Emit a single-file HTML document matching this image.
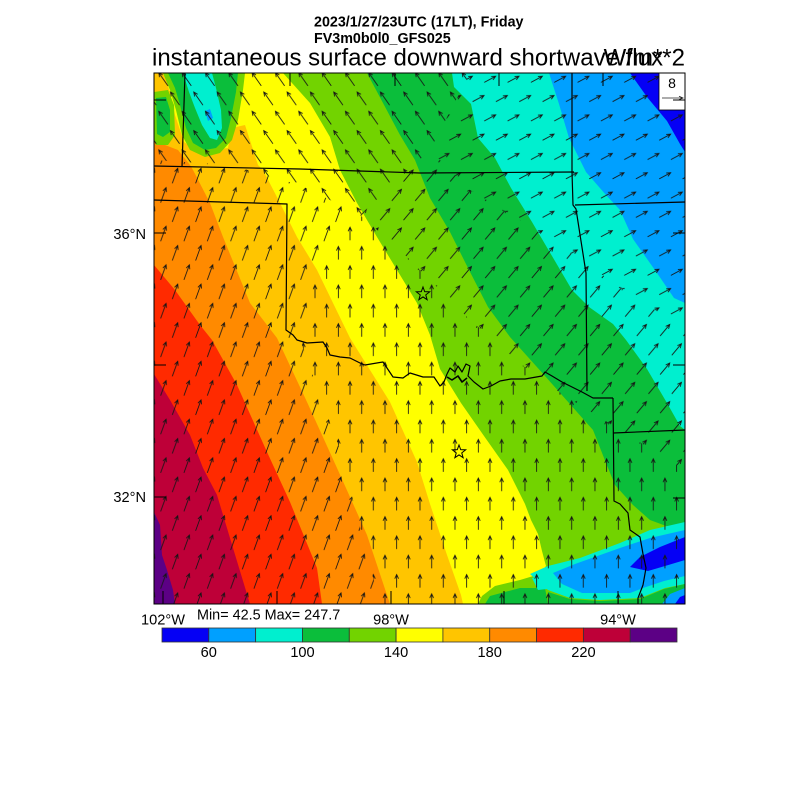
<!DOCTYPE html>
<html>
<head>
<meta charset="utf-8">
<style>
html,body{margin:0;padding:0;background:#fff;}
svg{display:block;}
text{font-family:"Liberation Sans",Arial,sans-serif;fill:#000;}
</style>
</head>
<body>
<svg width="800" height="800" viewBox="0 0 800 800" xmlns="http://www.w3.org/2000/svg">
<defs>
  <clipPath id="mapclip"><rect x="154" y="73" width="531" height="531"/></clipPath>
  <path id="aN" d="M0,6.5V-6.5M-1.9,-2.4L0,-6.5L1.9,-2.4"/>
  <path id="aNNE" d="M0,8V-8M-1.9,-3.9L0,-8L1.9,-3.9" transform="rotate(20)"/>
  <path id="aNE" d="M0,7.5V-7.5M-1.9,-3.4L0,-7.5L1.9,-3.4" transform="rotate(40)"/>
  <path id="aENE" d="M0,6.5V-6.5M-1.9,-2.4L0,-6.5L1.9,-2.4" transform="rotate(62)"/>
  <path id="aNW" d="M0,8V-8M-1.9,-3.9L0,-8L1.9,-3.9" transform="rotate(-35)"/>
  <pattern id="pN" patternUnits="userSpaceOnUse" x="145.87" y="50.35" width="23.33" height="38.6">
    <g stroke="#151515" stroke-width="0.85" fill="none">
      <use href="#aN" x="5.83" y="9.65"/><use href="#aN" x="29.16" y="9.65"/>
      <use href="#aN" x="17.5" y="28.95"/><use href="#aN" x="-5.83" y="28.95"/>
    </g>
  </pattern>
  <pattern id="pNNE" patternUnits="userSpaceOnUse" x="145.87" y="50.35" width="23.33" height="38.6">
    <g stroke="#151515" stroke-width="0.85" fill="none">
      <use href="#aNNE" x="5.83" y="9.65"/><use href="#aNNE" x="29.16" y="9.65"/>
      <use href="#aNNE" x="17.5" y="28.95"/><use href="#aNNE" x="-5.83" y="28.95"/>
    </g>
  </pattern>
  <pattern id="pNE" patternUnits="userSpaceOnUse" x="145.87" y="50.35" width="23.33" height="38.6">
    <g stroke="#151515" stroke-width="0.85" fill="none">
      <use href="#aNE" x="5.83" y="9.65"/><use href="#aNE" x="29.16" y="9.65"/>
      <use href="#aNE" x="17.5" y="28.95"/><use href="#aNE" x="-5.83" y="28.95"/>
    </g>
  </pattern>
  <pattern id="pENE" patternUnits="userSpaceOnUse" x="145.87" y="50.35" width="23.33" height="38.6">
    <g stroke="#151515" stroke-width="0.85" fill="none">
      <use href="#aENE" x="5.83" y="9.65"/><use href="#aENE" x="29.16" y="9.65"/>
      <use href="#aENE" x="17.5" y="28.95"/><use href="#aENE" x="-5.83" y="28.95"/>
    </g>
  </pattern>
  <pattern id="pNW" patternUnits="userSpaceOnUse" x="145.87" y="50.35" width="23.33" height="38.6">
    <g stroke="#151515" stroke-width="0.85" fill="none">
      <use href="#aNW" x="5.83" y="9.65"/><use href="#aNW" x="29.16" y="9.65"/>
      <use href="#aNW" x="17.5" y="28.95"/><use href="#aNW" x="-5.83" y="28.95"/>
    </g>
  </pattern>
  <polygon id="star" points="0,-7 1.705,-2.346 6.657,-2.163 2.758,0.896 4.115,5.663 0,2.9 -4.115,5.663 -2.758,0.896 -6.657,-2.163 -1.705,-2.346"/>
</defs>

<!-- Titles -->
<text x="314" y="26.5" font-size="14.3" font-weight="bold">2023/1/27/23UTC (17LT), Friday</text>
<text x="314" y="43" font-size="14.3" font-weight="bold">FV3m0b0l0_GFS025</text>
<text x="152" y="65.5" font-size="24">instantaneous surface downward shortwave flux</text>
<text x="685" y="65.5" font-size="24" text-anchor="end">W/m**2</text>

<!-- Map field -->
<g clip-path="url(#mapclip)">
  <rect x="154" y="73" width="531" height="531" fill="#0500F5"/>
  <polygon fill="#00A0FF" points="630,73 647,97 667,121 680,144 685,152 685,604 154,604 154,73"/>
  <polygon fill="#00EFCF" points="549,73 559,104 569,138 586,172 606,195 620,210 633,239 657,273 674,298 685,303 685,604 154,604 154,73"/>
  <polygon fill="#0BBE3B" points="452,73 454,87 471,104 478,138 495,158 511,188 532,222 552,256 572,290 589,307 613,324 626,340 647,369 667,403 680,426 685,430 685,604 154,604 154,73"/>
  <polygon fill="#72D300" points="367,73 383,103 400,135 415,160 430,198 450,232 467,266 488,307 510,337 545,376 569,403 593,430 606,463 615,485 633,505 650,520 677,530 685,531 685,604 154,604 154,73"/>
  <polygon fill="#FFFF00" points="283,73 310,103 330,137 340,170 357,203 377,237 397,270 417,303 430,335 440,369 461,403 484,436 508,470 525,504 531,520 538,534 542,551 546,566 540,574 520,580 495,586 482,596 478,604 154,604 154,73"/>
  <polygon fill="#FFC500" points="165,73 175,115 184,142 198,152 228,148 232,128 245,125 258,165 263,170 280,203 297,237 317,270 333,303 350,338 390,402 417,462 430,504 447,555 461,595 463,604 154,604 154,73"/>
  <polygon fill="#FF8A00" points="154,138 165,145 178,150 190,165 193,170 210,203 223,237 250,303 277,338 307,402 337,468 367,535 390,604 154,604"/>
  <polygon fill="#FF2A00" points="154,265 175,290 200,325 212,340 237,385 267,452 290,502 317,568 322,604 154,604"/>
  <polygon fill="#BE0038" points="154,374 170,400 190,435 203,468 217,495 233,548 250,604 154,604"/>
  <polygon fill="#5C0085" points="154,512 160,525 162,555 167,570 173,590 175,604 154,604"/>

  <!-- upper-left low-value blob -->
  <polygon fill="#72D300" points="163,73 245,73 243,90 238,120 232,140 220,153 205,157 190,150 182,135 176,110 170,90"/>
  <polygon fill="#0BBE3B" points="168,73 238,73 236,92 231,118 226,138 216,148 205,150 193,143 186,128 180,105 175,88"/>
  <polygon fill="#00EFCF" points="183,73 212,73 216,88 221,110 222,128 217,140 210,138 202,125 195,108 189,92"/>
  <polygon fill="#00A0FF" points="205,111 210,109 213,118 208,121"/>
  <polygon fill="#72D300" points="154,92 168,90 174,105 175,135 168,145 156,145 154,140"/>
  <polygon fill="#0BBE3B" points="156,98 166,97 170,110 170,132 163,137 157,134"/>

  <!-- bottom-right low-value blob -->
  <polygon fill="#0BBE3B" points="490,596 520,588 545,588 548,604 485,604"/>
  <polygon fill="#00EFCF" points="530,574 548,566 580,558 620,543 650,530 685,522 685,584 665,588 640,598 600,600 570,598 548,590"/>
  <polygon fill="#00A0FF" points="553,573 575,564 620,548 650,538 685,530 685,576 664,581 643,588 630,593 582,593 562,584"/>
  <polygon fill="#0500F5" points="630,567 640,557 660,547 685,537 685,560 665,566 648,571"/>
  <polygon fill="#0BBE3B" points="548,592 570,599 600,601 640,599 664,589 685,584 685,604 548,604"/>
  <polygon fill="#00A0FF" points="662,604 670,594 685,588 685,604"/>
  <polygon fill="#0500F5" points="675,604 680,597 685,595 685,604"/>
  <polygon fill="#00EFCF" points="532,578 550,576 556,588 538,590"/>

  <!-- wind vectors -->
  <polygon fill="url(#pNW)" points="154,73 470,73 430,150 360,215 300,185 230,165 154,160"/>
  <polygon fill="url(#pENE)" points="470,73 685,73 685,330 640,300 580,260 520,220 470,190 430,150"/>
  <polygon fill="url(#pNE)" points="430,150 470,190 520,220 580,260 640,300 685,330 685,470 620,430 540,380 470,320 400,250 360,215"/>
  <polygon fill="url(#pNNE)" points="154,160 230,165 300,185 360,215 320,260 300,340 340,450 380,604 154,604"/>
  <polygon fill="url(#pN)" points="360,215 400,250 470,320 540,380 620,430 685,470 685,604 380,604 340,450 300,340 320,260"/>

  <!-- state borders -->
  <g fill="none" stroke="#000" stroke-width="1.2" stroke-linejoin="round">
    <polyline points="185,73 182,167"/>
    <polyline points="154,166 300,169 420,173 574,172"/>
    <polyline points="154,200 287,204 286,330 293,335 297,340 307,343 323,342 327,348 330,355 340,357 350,358 360,363 365,365 383,362 387,368 393,377 403,378 410,373 423,377 434,377 440,386 444,382 447,374"/>
    <polyline points="447,374 450,368 455,372 458,366 462,372 466,364 470,366 468,376 474,382 483,389 491,386 500,381 511,379 525,379 542,376 545,372 552,376 562,382 582,392 593,398 613,398"/>
    <polyline points="447,377 452,380 458,376 462,382 467,378" stroke-width="1.6"/>
    <polyline points="572,73 572,172 573,205 576,209 586,273 587,391"/>
    <polyline points="575,205 685,202"/>
    <polyline points="613,398 614,501 620,504 628,513 630,530 640,537 643,554 646,568 643,585 638,598 638,604"/>
    <polyline points="613,433 685,430"/>
  </g>
  <!-- stars -->
  <g fill="none" stroke="#000" stroke-width="1">
    <use href="#star" x="423" y="294"/>
    <use href="#star" x="459" y="452"/>
  </g>
</g>

<!-- legend box -->
<rect x="659" y="73" width="26" height="37" fill="#fff" stroke="#000" stroke-width="0.8"/>
<text x="672" y="88" font-size="14" text-anchor="middle">8</text>
<g stroke="#222" stroke-width="0.8" fill="none">
  <path d="M662,98H683M679,96.2L683,98L679,99.8"/>
</g>

<!-- frame and ticks -->
<rect x="154" y="73" width="531" height="531" fill="none" stroke="#000" stroke-width="1"/>
<g stroke="#000" stroke-width="1">
  <path d="M154,100H166M154,233H166M154,365H166M154,497H166"/>
  <path d="M685,100H673M685,233H673M685,365H673M685,498H673"/>
  <path d="M290,73V86M395,73V86M499,73V86M603,73V86"/>
  <path d="M163,604V591M277,604V591M391,604V591M504,604V591M618,604V591"/>
</g>

<!-- axis labels -->
<text x="146" y="239" font-size="14.6" text-anchor="end">36°N</text>
<text x="146" y="502" font-size="14.6" text-anchor="end">32°N</text>
<text x="163" y="624.5" font-size="14.6" text-anchor="middle">102°W</text>
<text x="391" y="624.5" font-size="14.6" text-anchor="middle">98°W</text>
<text x="618" y="624.5" font-size="14.6" text-anchor="middle">94°W</text>
<text x="197" y="619.5" font-size="14.4">Min= 42.5 Max= 247.7</text>

<!-- colorbar -->
<g stroke="#333" stroke-width="0.8">
  <rect x="162" y="628" width="46.82" height="14" fill="#0500F5"/>
  <rect x="208.82" y="628" width="46.82" height="14" fill="#00A0FF"/>
  <rect x="255.64" y="628" width="46.82" height="14" fill="#00EFCF"/>
  <rect x="302.46" y="628" width="46.82" height="14" fill="#0BBE3B"/>
  <rect x="349.28" y="628" width="46.82" height="14" fill="#72D300"/>
  <rect x="396.1" y="628" width="46.82" height="14" fill="#FFFF00"/>
  <rect x="442.92" y="628" width="46.82" height="14" fill="#FFC500"/>
  <rect x="489.74" y="628" width="46.82" height="14" fill="#FF8A00"/>
  <rect x="536.56" y="628" width="46.82" height="14" fill="#FF2A00"/>
  <rect x="583.38" y="628" width="46.82" height="14" fill="#BE0038"/>
  <rect x="630.2" y="628" width="46.8" height="14" fill="#5C0085"/>
</g>
<g font-size="14.6" text-anchor="middle">
  <text x="208.8" y="657">60</text>
  <text x="302.5" y="657">100</text>
  <text x="396.1" y="657">140</text>
  <text x="489.7" y="657">180</text>
  <text x="583.4" y="657">220</text>
</g>
</svg>
</body>
</html>
